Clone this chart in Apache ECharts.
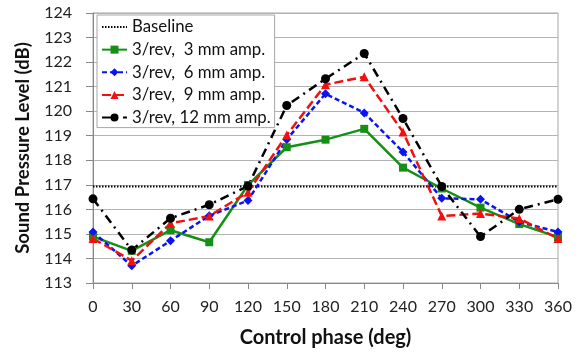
<!DOCTYPE html>
<html>
<head>
<meta charset="utf-8">
<script src="https://cdn.jsdelivr.net/npm/echarts@6/dist/echarts.min.js"></script>
<style>
html,body{margin:0;padding:0;background:#fff;}
#chart{width:583px;height:353px;}
</style>
</head>
<body>
<div id="chart"></div>
<script>
var phases = [0, 30, 60, 90, 120, 150, 180, 210, 240, 270, 300, 330, 360];
var baselineValue = 116.93;
var amp3 = [114.89, 114.31, 115.15, 114.66, 116.99, 118.53, 118.84, 119.28, 117.70, 116.85, 116.07, 115.40, 114.87];
var amp6 = [115.08, 113.70, 114.72, 115.74, 116.36, 118.85, 120.71, 119.93, 118.34, 116.45, 116.41, 115.49, 115.08];
var amp9 = [114.81, 113.91, 115.43, 115.73, 116.70, 119.03, 121.08, 121.40, 119.15, 115.73, 115.83, 115.63, 114.81];
var amp12 = [116.43, 114.34, 115.64, 116.19, 116.95, 120.23, 121.32, 122.35, 119.70, 116.93, 114.89, 116.00, 116.41];
var seriesNames = ['Baseline', '3/rev,  3 mm amp.', '3/rev,  6 mm amp.', '3/rev,  9 mm amp.', '3/rev, 12 mm amp.'];

function pairs(arr) { return phases.map(function (p, i) { return [p, arr[i]]; }); }
var baselineData = phases.map(function (p) { return [p, baselineValue]; });

var FONT = 'Lato, "Open Sans", sans-serif';
var chart = echarts.init(document.getElementById('chart'), null, {renderer: 'canvas'});
chart.setOption({
  animation: false,
  backgroundColor: '#fff',
  textStyle: {fontFamily: FONT},
  grid: {left: 93, right: 25, top: 13, bottom: 69, show: true, borderColor: '#a6a6a6', borderWidth: 1, backgroundColor: 'transparent'},
  legend: {
    orient: 'vertical', left: 97, top: 15,
    itemWidth: 25, itemHeight: 10, itemGap: 5.65,
    padding: [3.5, 4, 1.5, 4],
    backgroundColor: '#fff', borderColor: '#a6a6a6', borderWidth: 1,
    textStyle: {fontFamily: FONT, fontSize: 16.8, lineHeight: 16, color: '#111'},
    data: [
      {name: seriesNames[0], itemStyle: {opacity: 0}},
      seriesNames[1], seriesNames[2], seriesNames[3], seriesNames[4]
    ]
  },
  xAxis: {
    type: 'value', min: 0, max: 360, interval: 30,
    name: 'Control phase (deg)', nameLocation: 'middle', nameGap: 45,
    nameTextStyle: {fontFamily: FONT, fontSize: 20, fontWeight: 'bold', color: '#111'},
    axisLine: {show: true, lineStyle: {color: '#888', width: 1}},
    axisTick: {show: true, length: 6, lineStyle: {color: '#888'}},
    axisLabel: {fontFamily: FONT, fontSize: 16, color: '#222', margin: 16},
    splitLine: {show: false}
  },
  yAxis: {
    type: 'value', min: 113, max: 124, interval: 1,
    name: 'Sound Pressure Level (dB)', nameLocation: 'middle', nameGap: 60, nameRotate: 90,
    nameTextStyle: {fontFamily: FONT, fontSize: 18.5, fontWeight: 'bold', color: '#111'},
    axisLine: {show: true, lineStyle: {color: '#888', width: 1}},
    axisTick: {show: true, length: 7, lineStyle: {color: '#888'}},
    axisLabel: {fontFamily: FONT, fontSize: 16, color: '#222', margin: 21},
    splitLine: {show: true, lineStyle: {color: '#b3b3b3', width: 1}}
  },
  series: [
    {name: seriesNames[0], type: 'line', data: baselineData, symbol: 'none', z: 1,
     lineStyle: {color: '#000', width: 2, type: [1.5, 1.5]}, itemStyle: {color: '#000'}},
    {name: seriesNames[1], type: 'line', data: pairs(amp3), symbol: 'rect', symbolSize: 8,
     lineStyle: {color: '#159015', width: 2.5, type: 'solid'}, itemStyle: {color: '#159015'}},
    {name: seriesNames[2], type: 'line', data: pairs(amp6), symbol: 'diamond', symbolSize: 9,
     lineStyle: {color: '#0a14f0', width: 2.5, type: [5, 3]}, itemStyle: {color: '#0a14f0'}},
    {name: seriesNames[3], type: 'line', data: pairs(amp9), symbol: 'triangle', symbolSize: 9,
     lineStyle: {color: '#f01010', width: 2.5, type: [9, 4]}, itemStyle: {color: '#f01010'}},
    {name: seriesNames[4], type: 'line', data: pairs(amp12), symbol: 'circle', symbolSize: 9,
     lineStyle: {color: '#000', width: 2.5, type: [9, 5, 2, 5]}, itemStyle: {color: '#000'}}
  ]
});
</script>
</body>
</html>
